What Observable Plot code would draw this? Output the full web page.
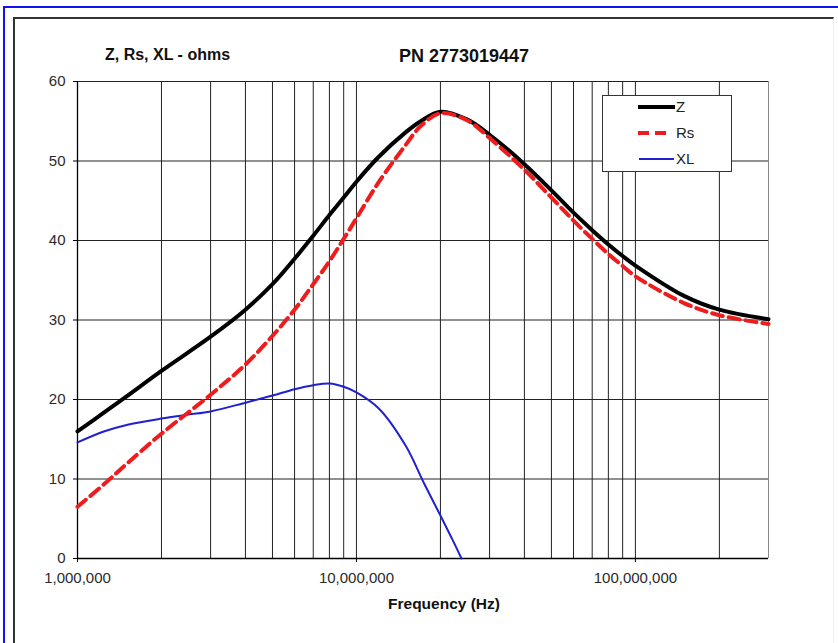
<!DOCTYPE html>
<html>
<head>
<meta charset="utf-8">
<script src="https://cdn.jsdelivr.net/npm/d3@7"></script>
<script src="https://cdn.jsdelivr.net/npm/@observablehq/plot@0.6"></script>
<style>
  html, body { margin: 0; padding: 0; background: #fff; }
  #wrap { position: relative; width: 838px; height: 643px; overflow: hidden; background: #fff;
          font-family: "Liberation Sans", Arial, sans-serif; }
  #blueTop { position: absolute; left: 3px; top: 6px; width: 835px; height: 2px; background: #1010f0; }
  #blueLeft { position: absolute; left: 3px; top: 6px; width: 2px; height: 640px; background: #1010f0; }
  #frame { position: absolute; left: 13px; top: 17px; width: 818px; height: 640px;
           border-left: 2px solid #333; border-top: 2px solid #333; border-right: 1px solid #eee; }
  #chart { position: absolute; left: 0; top: 0; }
  #overlay { position: absolute; left: 0; top: 0; pointer-events: none; }
</style>
</head>
<body>
<div id="wrap">
  <div id="blueTop"></div>
  <div id="blueLeft"></div>
  <div id="frame"></div>
  <div id="chart"></div>
  <svg id="overlay" width="838" height="643"></svg>
</div>
<script>
// ---- data ----
const freqs = [1e6, 1.25e6, 1.5e6, 2e6, 3e6, 4e6, 5e6, 6e6, 7e6, 8e6, 9e6, 1e7, 1.2e7, 1.5e7, 1.7e7, 2e7,
               2.5e7, 3e7, 4e7, 5e7, 6e7, 7e7, 8e7, 9e7, 1e8, 1.5e8, 2e8, 3e8];
const zOhms = [16.0, 18.4, 20.4, 23.6, 27.9, 31.3, 34.5, 37.7, 40.6, 43.2, 45.4, 47.4, 50.5, 53.6, 55.0, 56.2,
               55.2, 53.3, 49.6, 46.3, 43.5, 41.3, 39.5, 38.05, 36.85, 33.0, 31.3, 30.1];
const rsOhms = [6.5, 9.4, 11.9, 15.7, 20.6, 24.4, 28.0, 31.3, 34.5, 37.4, 40.2, 42.8, 47.3, 52.0, 54.4, 56.0,
                55.1, 52.9, 48.9, 45.4, 42.5, 40.2, 38.3, 36.8, 35.5, 32.1, 30.6, 29.5];
const freqsXL = [1e6, 1.25e6, 1.5e6, 2e6, 2.5e6, 3e6, 4e6, 5e6, 6e6, 7e6, 8e6, 9e6, 1e7, 1.2e7, 1.5e7, 1.75e7,
                 2e7, 2.2e7, 2.38e7];
const xlOhms = [14.6, 16.0, 16.8, 17.6, 18.1, 18.5, 19.6, 20.5, 21.3, 21.8, 22.0, 21.6, 20.9, 18.9, 14.2, 9.4,
                5.4, 2.5, 0];

const yTicks = [0, 10, 20, 30, 40, 50, 60];
const xTicks = [1e6, 1e7, 1e8];
const xGrid = [2e6, 3e6, 4e6, 5e6, 6e6, 7e6, 8e6, 9e6, 1e7, 2e7, 3e7, 4e7, 5e7, 6e7, 7e7, 8e7, 9e7, 1e8, 2e8];

const titleText = "PN 2773019447";
const yTitle = "Z, Rs, XL - ohms";
const xTitle = "Frequency (Hz)";
const seriesNames = ["Z", "Rs", "XL"];

// ---- tables ----
const zData = freqs.map((f, i) => ({f, v: zOhms[i]}));
const rsData = freqs.map((f, i) => ({f, v: rsOhms[i]}));
const xlData = freqsXL.map((f, i) => ({f, v: xlOhms[i]}));

const FONT = '"Liberation Sans", Arial, sans-serif';

const chart = Plot.plot({
  width: 838,
  height: 620,
  marginLeft: 77,
  marginRight: 70,
  marginTop: 81,
  marginBottom: 62,
  style: {fontFamily: FONT, fontSize: "15px", color: "#2a2a2a", background: "transparent", overflow: "visible"},
  x: {type: "log", domain: [1e6, 3e8]},
  y: {domain: [0, 60]},
  marks: [
    Plot.ruleX(xGrid, {stroke: "#222", strokeWidth: 1}),
    Plot.ruleY(yTicks.filter(v => v > 0), {stroke: "#222", strokeWidth: 1}),
    Plot.ruleX([3e8], {stroke: "#8a8a8a", strokeWidth: 1}),
    Plot.ruleX([1e6], {stroke: "#000", strokeWidth: 1.3}),
    Plot.ruleY([0], {stroke: "#000", strokeWidth: 1.3}),
    Plot.axisY({ticks: yTicks, tickSize: 4, tickPadding: 8, label: null, stroke: "#000", fontSize: 15}),
    Plot.axisX({ticks: xTicks, tickSize: 4, tickPadding: 10, label: null, stroke: "#000", fontSize: 15,
                tickFormat: d3.format(",")}),
    Plot.line(xlData, {x: "f", y: "v", curve: "catmull-rom", stroke: "#2020d0", strokeWidth: 2}),
    Plot.line(zData, {x: "f", y: "v", curve: "catmull-rom", stroke: "#000", strokeWidth: 4}),
    Plot.line(rsData, {x: "f", y: "v", curve: "catmull-rom", stroke: "#ee1c1c", strokeWidth: 4,
                       strokeDasharray: "11,6"})
  ]
});
document.getElementById("chart").appendChild(chart);

// ---- titles and legend ----
const ov = d3.select("#overlay");
ov.append("text").attr("x", 105).attr("y", 60).attr("font-family", FONT).attr("font-weight", "bold")
  .attr("font-size", 16).attr("fill", "#111").text(yTitle);
ov.append("text").attr("x", 464).attr("y", 62).attr("text-anchor", "middle").attr("font-family", FONT)
  .attr("font-weight", "bold").attr("font-size", 18).attr("fill", "#111").text(titleText);
ov.append("text").attr("x", 444).attr("y", 609).attr("text-anchor", "middle").attr("font-family", FONT)
  .attr("font-weight", "bold").attr("font-size", 15.5).attr("fill", "#111").text(xTitle);

const lg = ov.append("g").attr("transform", "translate(602,95)");
lg.append("rect").attr("x", 0.5).attr("y", 0.5).attr("width", 129).attr("height", 76)
  .attr("fill", "#fff").attr("stroke", "#333").attr("stroke-width", 1);
const legendStyles = [
  {stroke: "#000", w: 4, dash: null, x1: 36, x2: 73, y: 12},
  {stroke: "#ee1c1c", w: 4, dash: "11,6", x1: 36, x2: 68, y: 38},
  {stroke: "#2020d0", w: 2, dash: null, x1: 37, x2: 72, y: 64}
];
seriesNames.forEach((name, i) => {
  const s = legendStyles[i];
  lg.append("line").attr("x1", s.x1).attr("x2", s.x2).attr("y1", s.y).attr("y2", s.y)
    .attr("stroke", s.stroke).attr("stroke-width", s.w).attr("stroke-dasharray", s.dash);
  lg.append("text").attr("x", 74).attr("y", s.y).attr("dy", "0.35em").attr("font-family", FONT)
    .attr("font-size", 15).attr("fill", "#222").text(name);
});
</script>
</body>
</html>
